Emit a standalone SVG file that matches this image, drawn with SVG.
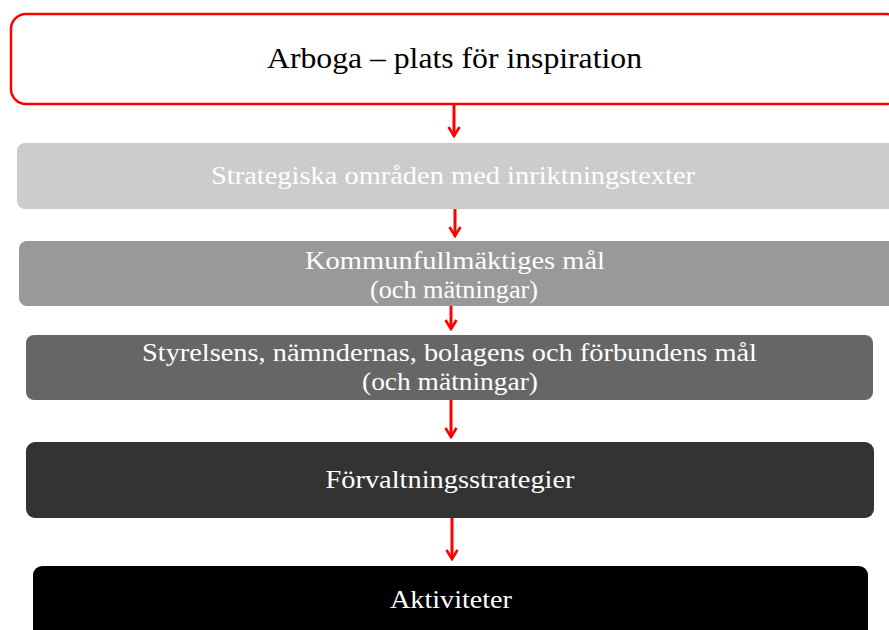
<svg xmlns="http://www.w3.org/2000/svg" width="889" height="630" viewBox="0 0 889 630">
<defs>
<style>
.t{font-family:"Liberation Serif","Times New Roman",serif;text-anchor:middle;}
.w{fill:#ffffff;font-size:26px;}
.c{stroke:#ff0000;stroke-width:3;fill:none;}
</style>
<marker id="ah" viewBox="0 0 14 14" refX="12" refY="7" markerWidth="14" markerHeight="14" markerUnits="userSpaceOnUse" orient="auto">
<polyline points="3,1.5 12,7 3,12.5" fill="none" stroke="#ff0000" stroke-width="2.6"/>
</marker>
</defs>
<rect width="889" height="630" fill="#ffffff"/>
<g id="connectors">
<line class="c" x1="454" y1="105" x2="454" y2="136" marker-end="url(#ah)"/>
<line class="c" x1="455" y1="209" x2="455" y2="236" marker-end="url(#ah)"/>
<line class="c" x1="451" y1="306" x2="451" y2="329" marker-end="url(#ah)"/>
<line class="c" x1="451" y1="400" x2="451" y2="437" marker-end="url(#ah)"/>
<line class="c" x1="452" y1="518" x2="452" y2="559" marker-end="url(#ah)"/>
</g>
<g id="n1">
<rect x="11" y="14" width="890" height="90" rx="15" fill="#ffffff" stroke="#ff0000" stroke-width="2.5"/>
<text class="t" x="454.5" y="68" font-size="30" fill="#000000" textLength="375" lengthAdjust="spacingAndGlyphs">Arboga – plats för inspiration</text>
</g>
<g id="n2">
<rect x="17" y="143" width="885" height="66" rx="8" fill="#cccccc"/>
<text class="t w" x="453" y="184" fill="#f2f2f2" textLength="484" lengthAdjust="spacingAndGlyphs">Strategiska områden med inriktningstexter</text>
</g>
<g id="n3">
<rect x="19" y="241" width="885" height="65" rx="8" fill="#999999"/>
<text class="t w" x="455" y="269" textLength="300" lengthAdjust="spacingAndGlyphs">Kommunfullmäktiges mål</text>
<text class="t w" x="454" y="298" textLength="168" lengthAdjust="spacingAndGlyphs">(och mätningar)</text>
</g>
<g id="n4">
<rect x="26" y="335" width="847" height="65" rx="8" fill="#666666"/>
<text class="t w" x="449.5" y="361" textLength="615" lengthAdjust="spacingAndGlyphs">Styrelsens, nämndernas, bolagens och förbundens mål</text>
<text class="t w" x="450" y="390" textLength="176" lengthAdjust="spacingAndGlyphs">(och mätningar)</text>
</g>
<g id="n5">
<rect x="26" y="442" width="848" height="76" rx="9" fill="#333333"/>
<text class="t w" x="450" y="488" textLength="249" lengthAdjust="spacingAndGlyphs">Förvaltningsstrategier</text>
</g>
<g id="n6">
<rect x="33" y="566" width="835" height="80" rx="9" fill="#000000"/>
<text class="t w" x="451" y="608" textLength="122" lengthAdjust="spacingAndGlyphs">Aktiviteter</text>
</g>
</svg>
